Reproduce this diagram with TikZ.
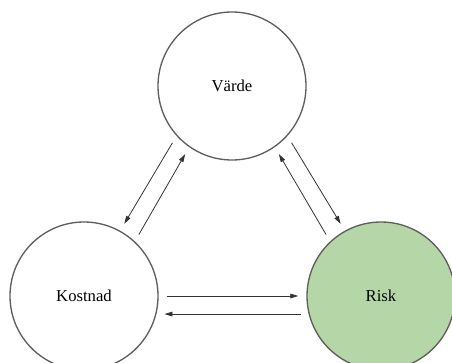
\documentclass[tikz,border=0pt]{standalone}
\usepackage{fontspec}
\setmainfont{Liberation Serif}
\usetikzlibrary{arrows.meta}
\definecolor{riskgreen}{HTML}{B5D7A8}
\definecolor{rimgray}{HTML}{5E5E5E}
\begin{document}
\begin{tikzpicture}[x=0.75pt, y=-0.75pt,
  bubble/.style={circle, draw=rimgray, line width=1pt, minimum size=111pt, inner sep=0pt, font=\fontsize{12.5}{15}\selectfont},
  flow/.style={draw=black!80, line width=0.6pt, -{Triangle[length=6pt, width=3.5pt]}, shorten <=6pt, shorten >=6pt}]
% Frame of the picture (pixel grid 452 x 363)
\clip (0,0) rectangle (452,363);

% The three circles
\node[bubble] (varde) at (232,86) {Värde};
\node[bubble] (kostnad) at (84,296) {Kostnad};
\node[bubble, fill=riskgreen] (risk) at (381,296) {Risk};

% Värde <-> Kostnad
\draw[flow] (varde.222) -- (kostnad.61);
\draw[flow] (kostnad.47) -- (varde.235);

% Värde <-> Risk
\draw[flow] (varde.318) -- (risk.119);
\draw[flow] (risk.133) -- (varde.305);

% Kostnad <-> Risk
\draw[flow] (kostnad.0) -- (risk.180);
\draw[flow] (risk.194) -- (kostnad.346);
\end{tikzpicture}
\end{document}
